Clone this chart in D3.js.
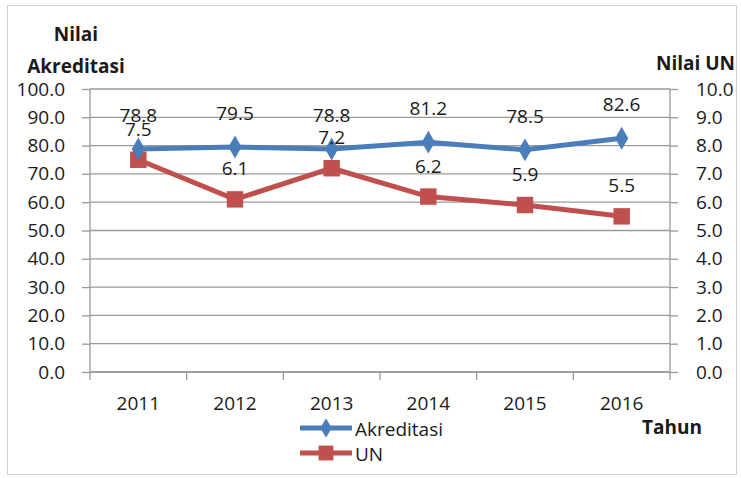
<!DOCTYPE html>
<html>
<head>
<meta charset="utf-8">
<script src="https://cdnjs.cloudflare.com/ajax/libs/d3/7.8.5/d3.min.js"></script>
<style>
  html, body { margin: 0; background: #fff; }
  svg text { font-family: "Open Sans", Lato, sans-serif; fill: #1a1a1a; }
</style>
</head>
<body>
<svg id="chart" width="741" height="478"></svg>
<script>
var years = ["2011", "2012", "2013", "2014", "2015", "2016"];
var akreditasi = [78.8, 79.5, 78.8, 81.2, 78.5, 82.6];
var un = [7.5, 6.1, 7.2, 6.2, 5.9, 5.5];
var leftTicks = [0, 10, 20, 30, 40, 50, 60, 70, 80, 90, 100];
var rightTicks = [0, 1, 2, 3, 4, 5, 6, 7, 8, 9, 10];

var BLUE = "#4a7ebb", RED = "#c0504d", GRID = "#9a9a9a";
var FS = "19px";
var plot = {left: 90, right: 670, top: 89, bottom: 372};

var svg = d3.select("#chart");

// outer frame
svg.append("rect").attr("x", 7.5).attr("y", 5.5).attr("width", 729).attr("height", 469)
  .attr("fill", "none").attr("stroke", "#d0d0d0");

var x = d3.scaleBand().domain(years).range([plot.left, plot.right]);
var yL = d3.scaleLinear().domain([0, 100]).range([plot.bottom, plot.top]);
var yR = d3.scaleLinear().domain([0, 10]).range([plot.bottom, plot.top]);

// grid lines
svg.append("g").selectAll("line").data(leftTicks).enter().append("line")
  .attr("x1", plot.left).attr("x2", plot.right)
  .attr("y1", function (d) { return yL(d); }).attr("y2", function (d) { return yL(d); })
  .attr("stroke", GRID).attr("stroke-width", 1.3);

// left axis
var gl = svg.append("g").attr("transform", "translate(" + plot.left + ",0)")
  .call(d3.axisLeft(yL).tickValues(leftTicks).tickSize(8).tickPadding(17).tickFormat(d3.format(".1f")));
// right axis
var gr = svg.append("g").attr("transform", "translate(" + plot.right + ",0)")
  .call(d3.axisRight(yR).tickValues(rightTicks).tickSize(8).tickPadding(18).tickFormat(d3.format(".1f")));
// bottom axis
var gb = svg.append("g").attr("transform", "translate(0," + plot.bottom + ")")
  .call(d3.axisBottom(x).tickSize(0).tickPadding(25));
// category tick marks at band edges
svg.append("g").selectAll("line").data(years.slice(1)).enter().append("line")
  .attr("x1", function (d) { return x(d); }).attr("x2", function (d) { return x(d); })
  .attr("y1", plot.bottom).attr("y2", plot.bottom + 8)
  .attr("stroke", GRID).attr("stroke-width", 1.3);

[gl, gr, gb].forEach(function (g) {
  g.selectAll("path").attr("stroke", GRID).attr("stroke-width", 1.3);
  g.selectAll("line").attr("stroke", GRID).attr("stroke-width", 1.3);
  g.selectAll("text").style("font-size", FS).attr("fill", "#1a1a1a");
});
gl.select(".domain").attr("d", "M0," + plot.top + "V" + (plot.bottom + 8));
gr.select(".domain").attr("d", "M0," + plot.top + "V" + (plot.bottom + 8));
gb.select(".domain").attr("d", "M" + plot.left + ",0H" + plot.right);

function cx(i) { return x(years[i]) + x.bandwidth() / 2; }

// UN series
svg.append("path").datum(un)
  .attr("d", d3.line().x(function (d, i) { return cx(i); }).y(function (d) { return yR(d); }))
  .attr("fill", "none").attr("stroke", RED).attr("stroke-width", 5);
svg.append("g").selectAll("path").data(un).enter().append("path")
  .attr("d", d3.symbol().type(d3.symbolSquare).size(270))
  .attr("transform", function (d, i) { return "translate(" + cx(i) + "," + yR(d) + ")"; })
  .attr("fill", RED);

// Akreditasi series
svg.append("path").datum(akreditasi)
  .attr("d", d3.line().x(function (d, i) { return cx(i); }).y(function (d) { return yL(d); }))
  .attr("fill", "none").attr("stroke", BLUE).attr("stroke-width", 5);
svg.append("g").selectAll("path").data(akreditasi).enter().append("path")
  .attr("d", d3.symbol().type(d3.symbolDiamond).size(150))
  .attr("transform", function (d, i) { return "translate(" + cx(i) + "," + yL(d) + ")"; })
  .attr("fill", BLUE);

// data labels (the reference itself lets some of these overlap)
svg.append("g").selectAll("text").data(akreditasi).enter().append("text")
  .attr("x", function (d, i) { return cx(i); })
  .attr("y", function (d) { return yL(d) - 27; })
  .attr("text-anchor", "middle").style("font-size", FS)
  .text(function (d) { return d.toFixed(1); });
svg.append("g").selectAll("text").data(un).enter().append("text")
  .attr("x", function (d, i) { return cx(i); })
  .attr("y", function (d) { return yR(d) - 24; })
  .attr("text-anchor", "middle").style("font-size", FS)
  .text(function (d) { return d.toFixed(1); });

// axis titles
var t1 = svg.append("text").attr("text-anchor", "middle")
  .style("font-size", FS).style("font-weight", "bold");
t1.append("tspan").attr("x", 76).attr("y", 41).text("Nilai");
t1.append("tspan").attr("x", 76).attr("y", 73).text("Akreditasi");
svg.append("text").attr("x", 735).attr("y", 70).attr("text-anchor", "end")
  .style("font-size", FS).style("font-weight", "bold").text("Nilai UN");
svg.append("text").attr("x", 642).attr("y", 434)
  .style("font-size", FS).style("font-weight", "bold").text("Tahun");

// legend
var legend = [{name: "Akreditasi", color: BLUE, sym: d3.symbolDiamond, size: 110, y: 428},
              {name: "UN", color: RED, sym: d3.symbolSquare, size: 220, y: 453}];
var lg = svg.append("g").selectAll("g").data(legend).enter().append("g");
lg.append("line").attr("x1", 300).attr("x2", 352)
  .attr("y1", function (d) { return d.y; }).attr("y2", function (d) { return d.y; })
  .attr("stroke", function (d) { return d.color; }).attr("stroke-width", 5);
lg.append("path")
  .attr("d", function (d) { return d3.symbol().type(d.sym).size(d.size)(); })
  .attr("transform", function (d) { return "translate(326," + d.y + ")"; })
  .attr("fill", function (d) { return d.color; });
lg.append("text").attr("x", 355).attr("y", function (d) { return d.y + 8; })
  .style("font-size", FS).text(function (d) { return d.name; });
</script>
</body>
</html>
